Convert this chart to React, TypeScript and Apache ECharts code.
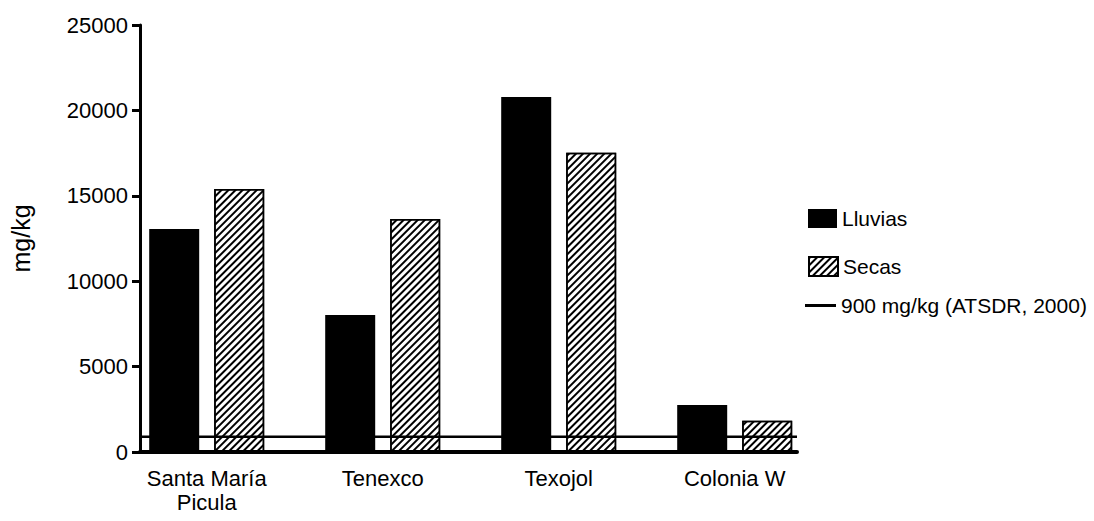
import React, { useEffect, useRef } from "react";
import * as echarts from "echarts";

const categories = ["Santa María\nPicula", "Tenexco", "Texojol", "Colonia W"];
const lluvias = [13050, 8020, 20780, 2750];
const secas = [15400, 13640, 17520, 1830];
const limitName = "900 mg/kg (ATSDR, 2000)";
const limitValue = 900;
const yMin = 0;
const yMax = 25000;
const yInterval = 5000;

const FONT = "'Liberation Sans', Arial, sans-serif";

export default function App() {
  const ref = useRef<HTMLDivElement>(null);
  useEffect(() => {
    if (!ref.current) return;
    const chart = echarts.init(ref.current, undefined, { renderer: "svg" });
    const hatch = {
      symbol: "rect",
      symbolSize: 1,
      color: "#000",
      dashArrayX: [1, 0],
      dashArrayY: [1.4, 2.4],
      rotation: -Math.PI / 4,
    };
    const legendText = { fontSize: 21, color: "#000", fontFamily: FONT };
    chart.setOption({
      animation: false,
      backgroundColor: "#fff",
      textStyle: { fontFamily: FONT, color: "#000" },
      grid: [
        { left: 140, top: 25, width: 657, height: 427 },
        { left: 118.7, top: 25, width: 704, height: 427 },
      ],
      xAxis: [
        {
          type: "value",
          gridIndex: 0,
          min: 0,
          max: 1,
          z: 10,
          axisLine: { show: true, onZero: false, lineStyle: { color: "#000", width: 4 } },
          axisTick: { show: false },
          axisLabel: { show: false },
          splitLine: { show: false },
        },
        {
          type: "category",
          gridIndex: 1,
          data: categories,
          axisLine: { show: false },
          axisTick: { show: false },
          axisLabel: {
            fontSize: 22,
            color: "#000",
            fontFamily: FONT,
            margin: 14,
            lineHeight: 24,
            interval: 0,
          },
        },
      ],
      yAxis: [
        {
          type: "value",
          gridIndex: 0,
          min: yMin,
          max: yMax,
          interval: yInterval,
          z: 10,
          name: "mg/kg",
          nameLocation: "middle",
          nameGap: 107,
          nameRotate: 90,
          nameTextStyle: { fontSize: 25, color: "#000", fontFamily: FONT },
          axisLine: { show: true, lineStyle: { color: "#000", width: 3 } },
          axisTick: { show: true, length: 8, lineStyle: { color: "#000", width: 3 } },
          axisLabel: {
            fontSize: 22,
            color: "#000",
            fontFamily: FONT,
            margin: 12,
            formatter: (v: number) => String(v),
          },
          splitLine: { show: false },
        },
        {
          type: "value",
          gridIndex: 1,
          min: yMin,
          max: yMax,
          interval: yInterval,
          show: false,
          splitLine: { show: false },
        },
      ],
      legend: [
        {
          data: [{ name: "Lluvias", icon: "rect" }],
          left: 808,
          top: 208,
          padding: 0,
          itemWidth: 29,
          itemHeight: 19,
          textStyle: legendText,
        },
        {
          data: [{ name: "Secas", icon: "rect" }],
          left: 808,
          top: 256,
          padding: 0,
          itemWidth: 29,
          itemHeight: 19,
          textStyle: legendText,
        },
        {
          data: [{ name: limitName, icon: "rect" }],
          left: 805,
          top: 295,
          padding: 0,
          itemWidth: 31,
          itemHeight: 3,
          textStyle: legendText,
        },
      ],
      series: [
        {
          name: "Lluvias",
          type: "bar",
          xAxisIndex: 1,
          yAxisIndex: 1,
          barWidth: 50,
          barGap: "30%",
          z: 2,
          itemStyle: { color: "#000" },
          data: lluvias,
        },
        {
          name: "Secas",
          type: "bar",
          xAxisIndex: 1,
          yAxisIndex: 1,
          barWidth: 50,
          barGap: "30%",
          z: 2,
          itemStyle: { color: "#fff", borderColor: "#000", borderWidth: 1.5, decal: hatch },
          data: secas,
        },
        {
          name: limitName,
          type: "line",
          xAxisIndex: 0,
          yAxisIndex: 0,
          symbol: "none",
          z: 5,
          lineStyle: { color: "#000", width: 2.5 },
          itemStyle: { color: "#000" },
          data: [
            [0, limitValue],
            [1, limitValue],
          ],
        },
      ],
    });
    return () => chart.dispose();
  }, []);
  return (
    <div
      ref={ref}
      style={{ position: "absolute", left: 0, top: 0, width: 1094, height: 521 }}
    />
  );
}
